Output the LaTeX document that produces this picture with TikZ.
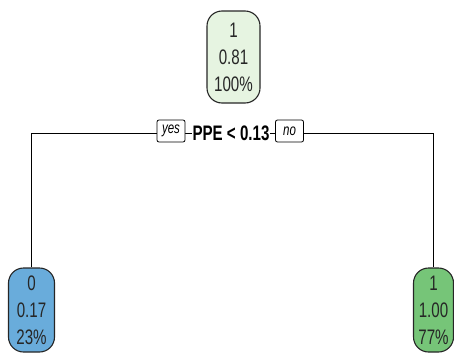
\documentclass[tikz,border=0pt]{standalone}
\usepackage{fontspec}
\setmainfont{Liberation Sans}
\definecolor{topfill}{HTML}{E6F4E1}
\definecolor{leftfill}{HTML}{69ACDB}
\definecolor{rightfill}{HTML}{76C578}
\newcommand{\sq}[1]{\scalebox{0.72}[1]{#1}}
\begin{document}
\begin{tikzpicture}[x=1pt,y=-1pt,
  leaf/.style={draw=black!85, line width=1.1pt, rounded corners=15pt, align=center,
    font=\fontsize{21}{27}\selectfont, inner sep=0pt, text=black!85},
  yn/.style={draw=black, line width=0.8pt, rounded corners=2pt, fill=white,
    font=\fontsize{16}{16}\itshape, inner sep=0pt, minimum width=28pt, minimum height=22pt},
  conn/.style={draw=black, line width=0.8pt}]
\useasboundingbox (0,0) rectangle (454,359);
\node[leaf, fill=topfill, minimum width=53pt, minimum height=92pt] (top) at (233.5,57) {\sq{1}\\\sq{0.81}\\\sq{100\%}};
\node[leaf, fill=leftfill, minimum width=46pt, minimum height=84pt] (left) at (31.5,310) {\sq{0}\\\sq{0.17}\\\sq{23\%}};
\node[leaf, fill=rightfill, minimum width=40pt, minimum height=84pt] (right) at (433.5,310) {\sq{1}\\\sq{1.00}\\\sq{77\%}};
\coordinate (lc) at (left.north |- 0,133);
\coordinate (rc) at (right.north |- 0,133);
\draw[conn] (left.north) -- (lc) -- (rc) -- (right.north);
\node[fill=white, inner xsep=1pt, inner ysep=2pt, font=\fontsize{21}{21}\bfseries\selectfont] (split) at (231,133) {\sq{PPE < 0.13}};
\node[yn] (yes) at (171,131) {\sq{yes}};
\node[yn] (no) at (289.5,131) {\sq{no}};
\end{tikzpicture}
\end{document}
